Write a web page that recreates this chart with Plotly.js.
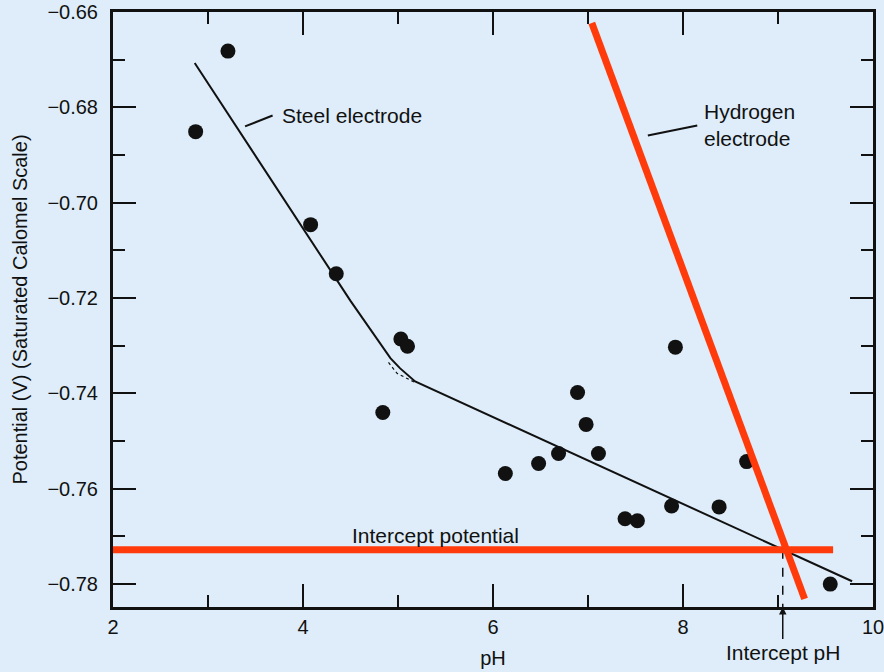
<!DOCTYPE html>
<html>
<head>
<meta charset="utf-8">
<script src="https://cdn.plot.ly/plotly-3.0.1.min.js"></script>
<style>html,body{margin:0;padding:0;background:#deedf9;}</style>
</head>
<body>
<div id="chart" style="width:884px;height:672px;"></div>
<script>
// Measured data points (pH, potential V vs SCE)
const pointPH = [2.87, 3.21, 4.08, 4.35, 4.84, 5.03, 5.10, 6.13, 6.48, 6.69, 6.89, 6.98, 7.11, 7.39, 7.52, 7.88, 7.92, 8.38, 8.67, 9.55];
const pointV  = [-0.6851, -0.6682, -0.7046, -0.7149, -0.7440, -0.7286, -0.7301, -0.7568, -0.7547, -0.7526, -0.7398, -0.7465, -0.7526, -0.7663, -0.7667, -0.7636, -0.7303, -0.7638, -0.7543, -0.7800];

// Steel electrode fitted line
const steelPH = [2.86, 4.50, 4.92, 5.02, 5.18, 9.78];
const steelV  = [-0.6707, -0.7206, -0.7326, -0.7347, -0.7375, -0.7794];

// Dotted corner of the two straight fits
const kneePH = [4.90, 4.99, 5.18];
const kneeV  = [-0.7335, -0.7358, -0.7377];

// Hydrogen electrode line
const hydPH = [7.04, 9.28];
const hydV  = [-0.6623, -0.7831];

// Intercept potential line
const interceptV = -0.7728;
const intPotPH = [1.94, 9.58];
const intPotV  = [interceptV, interceptV];

// Intercept pH
const interceptPH = 9.05;
const intPHx = [interceptPH, interceptPH];
const intPHy = [interceptV, -0.7848];

// Leader lines of the labels
const steelLeadPH = [3.39, 3.68];
const steelLeadV  = [-0.6840, -0.6817];
const hydLeadPH = [7.63, 8.15];
const hydLeadV  = [-0.6859, -0.6838];

// Axis ticks
const xTicks = [2, 4, 6, 8, 10];
const xMinor = [3, 5, 7, 9];
const yTicks = [-0.78, -0.76, -0.74, -0.72, -0.70, -0.68, -0.66];
const yTickText = ['\u22120.78', '\u22120.76', '\u22120.74', '\u22120.72', '\u22120.70', '\u22120.68', '\u22120.66'];
const yMinor = [-0.77, -0.75, -0.73, -0.71, -0.69, -0.67];

const FONT = 'Liberation Sans, Arial, sans-serif';
const RED = '#ff3b0c';
const INK = '#111111';

const traces = [
  {x: steelPH, y: steelV, mode: 'lines', line: {color: INK, width: 2}, hoverinfo: 'skip'},
  {x: kneePH, y: kneeV, mode: 'lines', line: {color: INK, width: 1.2, dash: 'dot'}, hoverinfo: 'skip'},
  {x: intPHx, y: intPHy, mode: 'lines', line: {color: INK, width: 1.5, dash: 'dash'}, hoverinfo: 'skip'},
  {x: steelLeadPH, y: steelLeadV, mode: 'lines', line: {color: INK, width: 2}, hoverinfo: 'skip'},
  {x: hydLeadPH, y: hydLeadV, mode: 'lines', line: {color: INK, width: 2}, hoverinfo: 'skip'},
  {x: pointPH, y: pointV, mode: 'markers', marker: {color: INK, size: 15}},
  {x: intPotPH, y: intPotV, mode: 'lines', line: {color: RED, width: 7}, hoverinfo: 'skip'},
  {x: hydPH, y: hydV, mode: 'lines', line: {color: RED, width: 7}, hoverinfo: 'skip'}
];

const axisCommon = {
  showgrid: false, zeroline: false, showline: true, linecolor: INK, linewidth: 3,
  mirror: 'ticks', ticks: 'inside', ticklen: 23, tickwidth: 2, tickcolor: INK,
  tickfont: {family: FONT, size: 20, color: INK}
};

const layout = {
  width: 884, height: 672,
  margin: {l: 113, r: 11, t: 12, b: 65},
  paper_bgcolor: '#deedf9', plot_bgcolor: '#deedf9',
  showlegend: false,
  xaxis: Object.assign({}, axisCommon, {
    range: [2, 10], tickmode: 'array', tickvals: xTicks, ticktext: xTicks.map(String),
    ticklabelstandoff: 0, ticklabeloverflow: 'allow',
    minor: {tickmode: 'array', tickvals: xMinor, ticks: 'inside', ticklen: 12, tickwidth: 2, tickcolor: INK},
    title: {text: 'pH', font: {family: FONT, size: 20, color: INK}, standoff: 14}
  }),
  yaxis: Object.assign({}, axisCommon, {
    range: [-0.7848, -0.66], tickmode: 'array', tickvals: yTicks, ticktext: yTickText,
    ticklabelstandoff: 8,
    minor: {tickmode: 'array', tickvals: yMinor, ticks: 'inside', ticklen: 12, tickwidth: 2, tickcolor: INK},
    title: {text: 'Potential (V) (Saturated Calomel Scale)', font: {family: FONT, size: 20, color: INK}, standoff: 15}
  }),
  annotations: [
    {x: 3.76, y: -0.6817, xref: 'x', yref: 'y', text: 'Steel electrode', showarrow: false,
     xanchor: 'left', yanchor: 'middle', font: {family: FONT, size: 21, color: INK}},
    {x: 8.20, y: -0.6837, xref: 'x', yref: 'y', text: 'Hydrogen<br>electrode', showarrow: false,
     xanchor: 'left', yanchor: 'middle', align: 'left', font: {family: FONT, size: 21, color: INK}},
    {x: 4.495, y: -0.7697, xref: 'x', yref: 'y', text: 'Intercept potential', showarrow: false,
     xanchor: 'left', yanchor: 'middle', font: {family: FONT, size: 21, color: INK}},
    {x: interceptPH, y: -0.7848, xref: 'x', yref: 'y', text: 'Intercept pH', showarrow: true,
     ax: 0, ay: 45, arrowhead: 2, arrowsize: 1, arrowwidth: 1.5, arrowcolor: INK,
     font: {family: FONT, size: 21, color: INK}}
  ]
};

Plotly.newPlot('chart', traces, layout, {displayModeBar: false, staticPlot: true});
</script>
</body>
</html>
